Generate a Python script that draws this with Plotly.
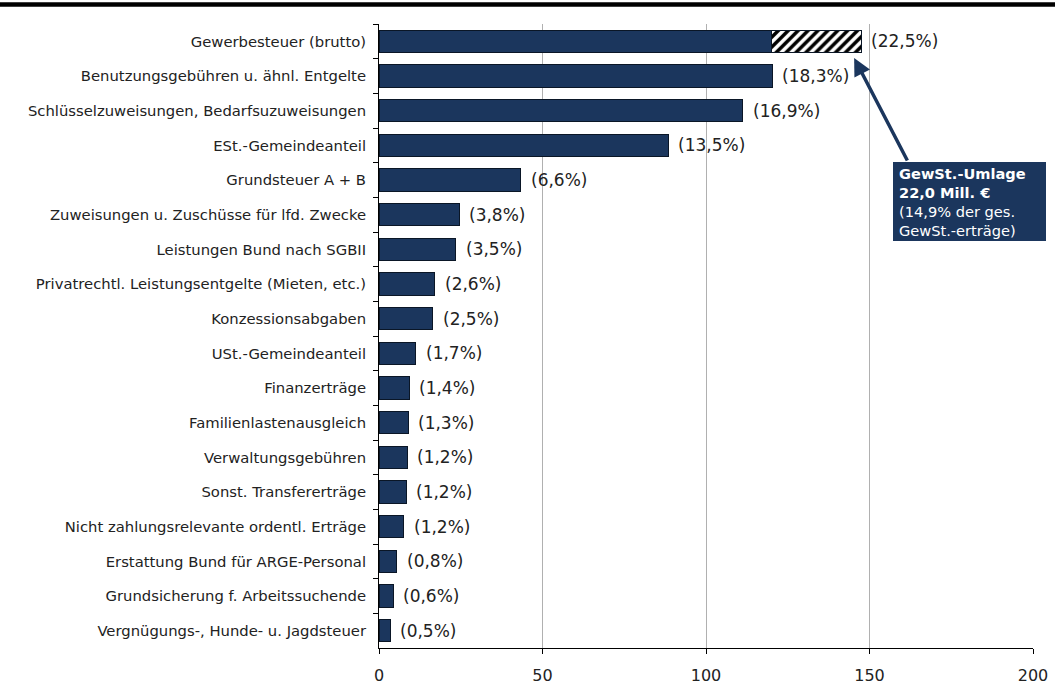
import plotly.graph_objects as go

categories = [
    "Gewerbesteuer (brutto)",
    "Benutzungsgebühren u. ähnl. Entgelte",
    "Schlüsselzuweisungen, Bedarfsuzuweisungen",
    "ESt.-Gemeindeanteil",
    "Grundsteuer A + B",
    "Zuweisungen u. Zuschüsse für lfd. Zwecke",
    "Leistungen Bund nach SGBII",
    "Privatrechtl. Leistungsentgelte (Mieten, etc.)",
    "Konzessionsabgaben",
    "USt.-Gemeindeanteil",
    "Finanzerträge",
    "Familienlastenausgleich",
    "Verwaltungsgebühren",
    "Sonst. Transfererträge",
    "Nicht zahlungsrelevante ordentl. Erträge",
    "Erstattung Bund für ARGE-Personal",
    "Grundsicherung f. Arbeitssuchende",
    "Vergnügungs-, Hunde- u. Jagdsteuer",
]
solid_values = [120.1, 120.2, 111.3, 88.4, 43.4, 24.5, 23.5, 17.1, 16.5, 11.3,
                 9.2, 8.9, 8.6, 8.3, 7.6, 5.5, 4.3, 3.4]
hatched_category = ["Gewerbesteuer (brutto)"]
hatched_values = [27.3]
share_labels = ["(22,5%)", "(18,3%)", "(16,9%)", "(13,5%)", "(6,6%)", "(3,8%)",
                "(3,5%)", "(2,6%)", "(2,5%)", "(1,7%)", "(1,4%)", "(1,3%)",
                "(1,2%)", "(1,2%)", "(1,2%)", "(0,8%)", "(0,6%)", "(0,5%)"]
x_ticks = [0, 50, 100, 150, 200]

NAVY = "#1b365d"
FONT = "DejaVu Sans"

fig = go.Figure()
fig.add_trace(go.Bar(
    y=categories, x=solid_values, orientation="h",
    marker=dict(color=NAVY, line=dict(color="#0a1626", width=1)),
    showlegend=False, hoverinfo="x+y",
))
fig.add_trace(go.Bar(
    y=hatched_category, x=hatched_values, orientation="h",
    marker=dict(color="white", line=dict(color="#0a1626", width=1),
                pattern=dict(shape="/", fgcolor="black", bgcolor="white",
                             size=7, solidity=0.5, fgopacity=1,
                             fillmode="overlay")),
    showlegend=False, hoverinfo="x+y",
))

totals = {c: v for c, v in zip(categories, solid_values)}
for c, v in zip(hatched_category, hatched_values):
    totals[c] += v

annotations = []
for c, lab in zip(categories, share_labels):
    annotations.append(dict(
        x=totals[c], y=c, xref="x", yref="y", text=lab, showarrow=False,
        xanchor="left", yanchor="middle", xshift=8,
        font=dict(family=FONT, size=17, color="#222222"),
    ))

# callout text (box drawn as shape)
annotations.append(dict(
    xref="paper", yref="paper", x=(896 - 379) / 654, y=(648 - 162) / 624,
    xanchor="left", yanchor="top", showarrow=False, align="left",
    text="<b>GewSt.-Umlage<br>22,0 Mill. €</b><br>(14,9% der ges.<br>GewSt.-erträge)",
    font=dict(family=FONT, size=14.6, color="white"),
    borderpad=2,
))
# arrow
annotations.append(dict(
    x=145.3, xref="x", y=(648 - 58) / 624, yref="paper",
    text="", showarrow=True, ax=54, ay=104,
    arrowcolor=NAVY, arrowwidth=3.5, arrowhead=2, arrowsize=1,
))

fig.update_layout(
    barmode="stack",
    bargap=0.365,
    width=1055, height=693,
    margin=dict(l=379, r=22, t=24, b=45, autoexpand=False),
    plot_bgcolor="white", paper_bgcolor="white",
    font=dict(family=FONT, color="#222222"),
    annotations=annotations,
    shapes=[
        dict(type="line", xref="paper", yref="paper",
             x0=-379 / 654, x1=676 / 654,
             y0=1 + 19.5 / 624, y1=1 + 19.5 / 624,
             line=dict(color="black", width=4.5)),
        dict(type="rect", xref="paper", yref="paper", layer="above",
             x0=(893 - 379) / 654, x1=(1046 - 379) / 654,
             y0=(648 - 241) / 624, y1=(648 - 162) / 624,
             fillcolor=NAVY, line=dict(width=0)),
    ],
    xaxis=dict(
        range=[0, 200], tickvals=x_ticks, ticktext=[str(t) for t in x_ticks],
        showgrid=True, gridcolor="#b0b0b0", gridwidth=1,
        showline=True, linecolor="black", linewidth=1,
        ticks="outside", ticklen=5, tickcolor="black",
        tickfont=dict(family=FONT, size=16, color="#222222"),
        ticklabelstandoff=8, zeroline=False, fixedrange=True,
        automargin=False,
    ),
    yaxis=dict(
        categoryorder="array", categoryarray=categories,
        autorange="reversed",
        showline=True, linecolor="black", linewidth=1,
        ticks="outside", ticklen=5, tickcolor="black", tickson="boundaries",
        tickfont=dict(family=FONT, size=14.8, color="#222222"),
        ticklabelstandoff=9, showgrid=False, fixedrange=True,
        automargin=False,
    ),
)

fig.write_html("out.html", config={"displayModeBar": False},
               post_script="document.body.style.margin='0';")
